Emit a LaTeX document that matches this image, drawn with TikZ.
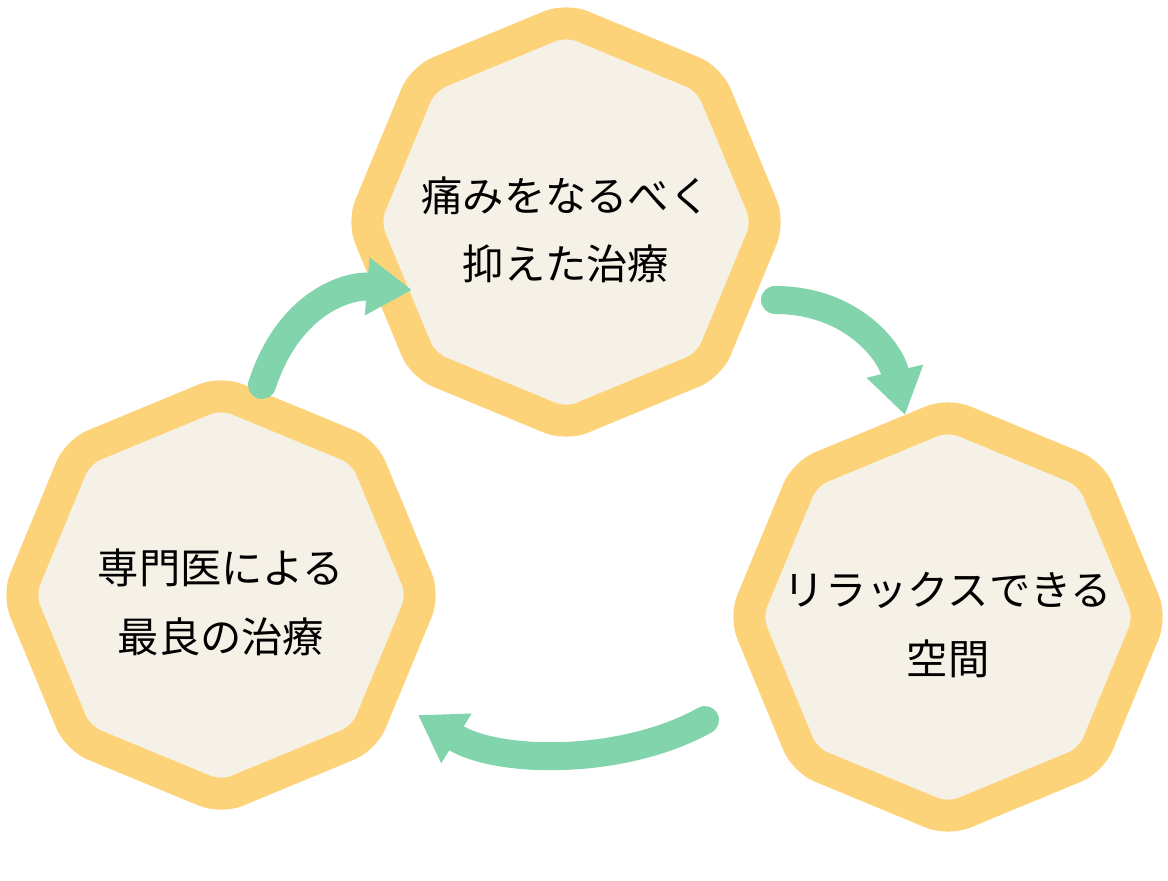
\documentclass[tikz,border=0pt]{standalone}
\usepackage{fontspec}
\setmainfont{Noto Sans CJK JP}
\usetikzlibrary{arrows.meta}
\definecolor{ringyellow}{HTML}{FDD37A}
\definecolor{cream}{HTML}{F5F1E6}
\definecolor{leafgreen}{HTML}{82D4AC}
\tikzset{
  ring/.style={draw=ringyellow, line width=0.64cm, fill=cream, rounded corners=0.35cm},
  label/.style={align=center, font=\fontsize{23.5pt}{39pt}\selectfont},
  flow/.style={leafgreen, line width=0.56cm, line cap=round,
    -{Triangle[length=0.9cm,width=1.1cm]}}
}
\newcommand{\octring}[2]{%
  \begin{scope}[shift={(#1,#2)}]
    \draw[ring] (90:4.05) \foreach \a in {135,180,...,405}{ -- (\a:4.05)} -- cycle;
  \end{scope}}
\begin{document}
\begin{tikzpicture}
\useasboundingbox (0,0) rectangle (23.36,17.6);

% rings
\octring{11.32}{13.16}
\octring{4.42}{5.7}
\octring{18.96}{5.26}

% labels
\node[label] (care) at (11.32,13.0) {痛みをなるべく\\抑えた治療};
\node[label] (expert) at (4.42,5.55) {専門医による\\最良の治療};
\node[label] (relax) at (18.96,5.1) {リラックスできる\\空間};

% arrows
\coordinate (a1s) at (5.24,9.9);
\coordinate (a1e) at (8.24,11.8);
\coordinate (a2s) at (15.5,11.6);
\coordinate (a2e) at (18.1,9.3);
\coordinate (a3s) at (14.1,3.2);
\coordinate (a3e) at (8.36,3.3);
\draw[flow] (a1s) .. controls (5.8,11.6) and (7,11.9) .. (a1e);
\draw[flow] (a2s) .. controls (17,11.6) and (17.8,10.6) .. (a2e);
\draw[flow] (a3s) .. controls (12.5,2.3) and (10,2.3) .. (a3e);

\end{tikzpicture}
\end{document}
